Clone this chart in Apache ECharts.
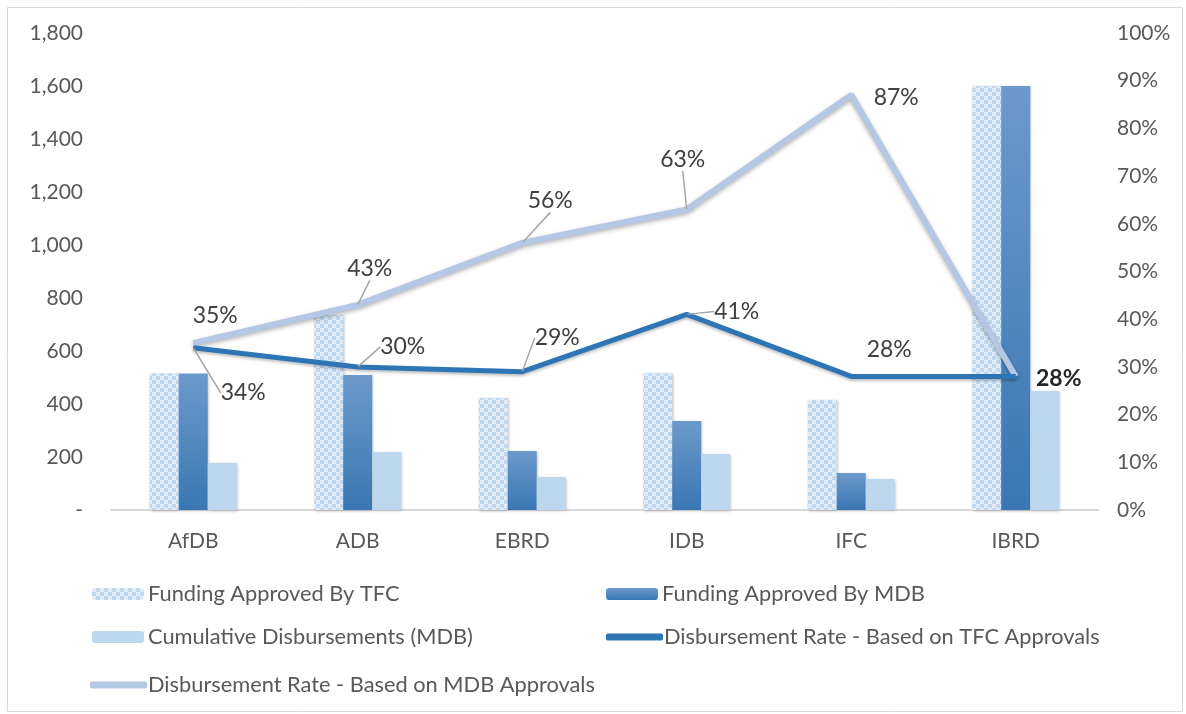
<!DOCTYPE html>
<html>
<head>
<meta charset="utf-8">
<script src="https://cdn.jsdelivr.net/npm/echarts@6/dist/echarts.min.js"></script>
<style>
html,body{margin:0;padding:0;background:#fff;}
#chart{width:1186px;height:714px;}
</style>
</head>
<body>
<div id="chart"></div>
<script>
const categories = ['AfDB', 'ADB', 'EBRD', 'IDB', 'IFC', 'IBRD'];
const fundingTFC = [515, 736, 423, 517, 415, 1600];
const fundingMDB = [515, 509, 223, 336, 140, 1600];
const cumulativeDisb = [177, 219, 125, 211, 117, 449];
const rateTFC = [0.34, 0.30, 0.29, 0.41, 0.28, 0.28];
const rateMDB = [0.35, 0.43, 0.56, 0.63, 0.87, 0.28];
const leftTicks = { min: 0, max: 1800, interval: 200 };
const rightTicks = { min: 0, max: 1, interval: 0.1 };

// label placement (offsets from point, px) and leader-line flags
const offTFC = [[50, 45], [45, -20], [35, -34], [50, -3], [38, -27], [0, 0]];
const leaderTFC = [true, true, true, true, false, false];
const showTFC = [true, true, true, true, true, false];
const offMDB = [[22, -27], [12, -36], [28, -42], [-4, -50], [45, 3], [43, 2]];
const leaderMDB = [false, true, true, true, false, false];

const chart = echarts.init(document.getElementById('chart'));

function makePattern() {
  const c = document.createElement('canvas');
  c.width = 8; c.height = 8;
  const g = c.getContext('2d');
  g.fillStyle = '#BFD8EF';
  g.fillRect(0, 0, 8, 8);
  g.fillStyle = '#E4EFFA';
  g.fillRect(0, 0, 4, 4);
  g.fillRect(4, 4, 4, 4);
  g.fillStyle = '#CADFF3';
  g.fillRect(1, 2, 2, 1);
  g.fillRect(5, 6, 2, 1);
  return c;
}
const patternColor = { image: makePattern(), repeat: 'repeat' };
const mdbGradient = {
  type: 'linear', x: 0, y: 0, x2: 0, y2: 1,
  colorStops: [{ offset: 0, color: '#6C99CB' }, { offset: 1, color: '#3A77B4' }]
};

const FONT = 'Lato, "Open Sans", sans-serif';
const labelText = { fontFamily: FONT, fontSize: 23, color: '#404040' };
const barShadow = { shadowColor: 'rgba(0,0,0,0.25)', shadowBlur: 3, shadowOffsetX: 1, shadowOffsetY: 1 };

function lineData(vals, show, leader, boldLast) {
  return vals.map((v, i) => ({
    value: v,
    label: {
      show: show ? show[i] : true,
      fontWeight: (boldLast && i === vals.length - 1) ? 'bold' : 'normal',
      color: (boldLast && i === vals.length - 1) ? '#262626' : '#404040'
    },
    labelLine: { show: leader[i] }
  }));
}

const legendText = (pad) => ({ fontFamily: FONT, fontSize: 21.8, color: '#595959', padding: [0, 0, 0, pad] });
function legendAt(name, left, top, opts) {
  return Object.assign({
    data: [name], left: left, top: top, orient: 'horizontal',
    itemWidth: 52, itemHeight: 12, itemGap: 0,
    textStyle: legendText(-1),
    selectedMode: false
  }, opts || {});
}

const option = {
  animation: false,
  backgroundColor: '#fff',
  textStyle: { fontFamily: FONT },
  graphic: [{
    type: 'rect', left: 5, top: 5, silent: true,
    shape: { width: 1175, height: 704 },
    style: { fill: 'none', stroke: '#d9d9d9', lineWidth: 1 }
  }],
  grid: { left: 111, right: 88, top: 33, bottom: 204, containLabel: false },
  legend: [
    legendAt('Funding Approved By TFC', 87, 578),
    legendAt('Funding Approved By MDB', 601, 578),
    legendAt('Cumulative Disbursements (MDB)', 87, 621),
    legendAt('Disbursement Rate - Based on TFC Approvals', 601, 621, { icon: 'roundRect', itemWidth: 57, itemHeight: 7, textStyle: legendText(-4) }),
    legendAt('Disbursement Rate - Based on MDB Approvals', 85, 669, { icon: 'roundRect', itemWidth: 57, itemHeight: 7, textStyle: legendText(-4) })
  ],
  xAxis: {
    type: 'category', data: categories,
    axisLine: { lineStyle: { color: '#d9d9d9', width: 2 } },
    axisTick: { show: false },
    axisLabel: { fontFamily: FONT, fontSize: 21, color: '#595959', margin: 21 }
  },
  yAxis: [{
    type: 'value', min: leftTicks.min, max: leftTicks.max, interval: leftTicks.interval,
    splitLine: { show: false }, axisLine: { show: false }, axisTick: { show: false },
    axisLabel: {
      fontFamily: FONT, fontSize: 21, color: '#595959', margin: 28,
      formatter: v => v === 0 ? '-' : v.toLocaleString('en-US')
    }
  }, {
    type: 'value', min: rightTicks.min, max: rightTicks.max, interval: rightTicks.interval,
    splitLine: { show: false }, axisLine: { show: false }, axisTick: { show: false },
    axisLabel: {
      fontFamily: FONT, fontSize: 21, color: '#595959', margin: 19,
      formatter: v => Math.round(v * 100) + '%'
    }
  }],
  series: [{
    name: 'Funding Approved By TFC', type: 'bar', data: fundingTFC,
    barWidth: 29, barGap: '0%',
    itemStyle: Object.assign({ color: patternColor }, barShadow)
  }, {
    name: 'Funding Approved By MDB', type: 'bar', data: fundingMDB,
    barWidth: 29, barGap: '0%',
    itemStyle: Object.assign({ color: mdbGradient }, barShadow)
  }, {
    name: 'Cumulative Disbursements (MDB)', type: 'bar', data: cumulativeDisb,
    barWidth: 29, barGap: '0%',
    itemStyle: Object.assign({ color: '#BDD7EE' }, barShadow)
  }, {
    name: 'Disbursement Rate - Based on MDB Approvals', type: 'line', yAxisIndex: 1,
    data: lineData(rateMDB, null, leaderMDB, true),
    symbol: 'circle', symbolSize: 1, showSymbol: true,
    itemStyle: { color: '#B4C8E6' },
    lineStyle: { color: '#B4C8E6', width: 6, shadowColor: 'rgba(0,0,0,0.3)', shadowBlur: 4, shadowOffsetY: 2 },
    label: Object.assign({
      show: true, position: 'inside', align: 'center', verticalAlign: 'middle',
      formatter: p => Math.round(p.value * 100) + '%'
    }, labelText),
    labelLine: { show: true, length2: 0, smooth: false, lineStyle: { color: '#a6a6a6', width: 1.5 } },
    labelLayout: p => ({ dx: offMDB[p.dataIndex][0], dy: offMDB[p.dataIndex][1], hideOverlap: false }),
    z: 3
  }, {
    name: 'Disbursement Rate - Based on TFC Approvals', type: 'line', yAxisIndex: 1,
    data: lineData(rateTFC, showTFC, leaderTFC, false),
    symbol: 'circle', symbolSize: 1, showSymbol: true,
    itemStyle: { color: '#2E75B6' },
    lineStyle: { color: '#2E75B6', width: 5, shadowColor: 'rgba(0,0,0,0.25)', shadowBlur: 3, shadowOffsetY: 2 },
    label: Object.assign({
      show: true, position: 'inside', align: 'center', verticalAlign: 'middle',
      formatter: p => Math.round(p.value * 100) + '%'
    }, labelText),
    labelLine: { show: true, length2: 0, smooth: false, lineStyle: { color: '#a6a6a6', width: 1.5 } },
    labelLayout: p => ({ dx: offTFC[p.dataIndex][0], dy: offTFC[p.dataIndex][1], hideOverlap: false }),
    z: 4
  }]
};
chart.setOption(option);
</script>
</body>
</html>
